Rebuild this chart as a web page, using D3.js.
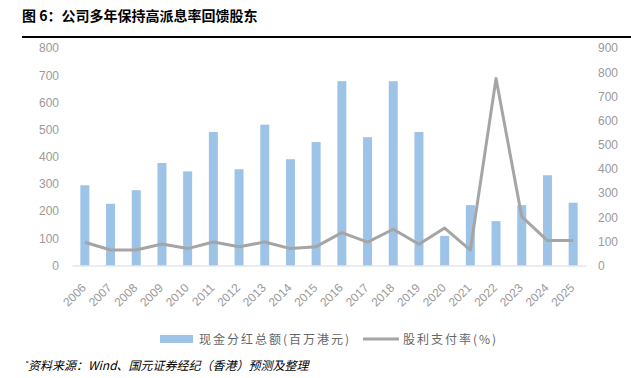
<!DOCTYPE html>
<html>
<head>
<meta charset="utf-8">
<script src="https://cdn.jsdelivr.net/npm/d3@7"></script>
<style>
  html, body { margin: 0; padding: 0; background: #fff; }
  svg { display: block; }
</style>
</head>
<body>
<div id="chart"></div>
<script>
// chart data
const years = ["2006", "2007", "2008", "2009", "2010", "2011", "2012", "2013", "2014", "2015",
    "2016", "2017", "2018", "2019", "2020", "2021", "2022", "2023", "2024", "2025"];
const dividendTotal = [295, 227, 277, 377, 346, 491, 354, 518, 391, 454,
    678, 472, 678, 491, 109, 222, 163, 222, 332, 231];
const payoutRatio = [96, 64, 64, 89, 70, 97, 78, 97, 70, 78,
    136, 97, 150, 88, 155, 64, 774, 202, 103, 103];
const leftTicks = [0, 100, 200, 300, 400, 500, 600, 700, 800];
const rightTicks = [0, 100, 200, 300, 400, 500, 600, 700, 800, 900];
const barLabel = "现金分红总额(百万港元)";
const lineLabel = "股利支付率(%)";

const W = 631, H = 378;
const plot = { left: 72, right: 586, top: 48, bottom: 265.5 };
const tickColor = "#9a9a9a";

const svg = d3.select("#chart")
    .append("svg")
    .attr("width", W)
    .attr("height", H);

// title + rule
svg.append("text")
    .attr("x", 22)
    .attr("y", 21)
    .style("font-family", "'Noto Sans CJK SC', sans-serif")
    .style("font-weight", "bold")
    .style("font-size", "14px")
    .style("fill", "#000")
    .text("图 6：公司多年保持高派息率回馈股东");

svg.append("line")
    .attr("x1", 22).attr("x2", W)
    .attr("y1", 37).attr("y2", 37)
    .attr("stroke", "#000")
    .attr("stroke-width", 2);

const x = d3.scaleBand()
    .domain(years)
    .range([plot.left, plot.right])
    .padding(0);

const yLeft = d3.scaleLinear()
    .domain([0, 800])
    .range([plot.bottom, plot.top]);

const yRight = d3.scaleLinear()
    .domain([0, 900])
    .range([plot.bottom, plot.top]);

const cx = d => x(d) + x.bandwidth() / 2;
const barW = 9;

// bars
svg.selectAll(".bar")
    .data(dividendTotal)
    .enter().append("rect")
    .attr("class", "bar")
    .attr("x", (d, i) => cx(years[i]) - barW / 2)
    .attr("y", d => yLeft(d))
    .attr("width", barW)
    .attr("height", d => yLeft(0) - yLeft(d))
    .attr("fill", "#9dc3e6");

// bottom axis
const xAxis = svg.append("g")
    .attr("transform", `translate(0,${plot.bottom})`)
    .call(d3.axisBottom(x).tickSize(0).tickSizeOuter(0));
xAxis.select(".domain").attr("stroke", "#d9d9d9").attr("stroke-width", 1);
xAxis.selectAll("text")
    .attr("transform", "translate(-1,20) rotate(-45)")
    .attr("y", 0)
    .attr("dy", "0.35em")
    .attr("text-anchor", "end")
    .style("font-family", "'Liberation Sans', Arial, sans-serif")
    .style("font-size", "12px")
    .style("fill", tickColor);

// left axis
const leftAxis = svg.append("g")
    .attr("transform", `translate(${plot.left},0)`)
    .call(d3.axisLeft(yLeft).tickValues(leftTicks).tickSize(0).tickPadding(13));
leftAxis.select(".domain").remove();
leftAxis.selectAll("text")
    .style("font-family", "'Liberation Sans', Arial, sans-serif")
    .style("font-size", "12px")
    .style("fill", tickColor);

// right axis
const rightAxis = svg.append("g")
    .attr("transform", `translate(${plot.right},0)`)
    .call(d3.axisRight(yRight).tickValues(rightTicks).tickSize(0).tickPadding(12));
rightAxis.select(".domain").remove();
rightAxis.selectAll("text")
    .style("font-family", "'Liberation Sans', Arial, sans-serif")
    .style("font-size", "12px")
    .style("fill", tickColor);

// payout ratio line
const line = d3.line()
    .x((d, i) => cx(years[i]))
    .y(d => yRight(d));

svg.append("path")
    .datum(payoutRatio)
    .attr("d", line)
    .attr("fill", "none")
    .attr("stroke", "#a5a5a5")
    .attr("stroke-width", 3)
    .attr("stroke-linejoin", "round");

// legend
const legend = svg.append("g").attr("transform", "translate(160,339)");
legend.append("rect")
    .attr("x", 0).attr("y", -4)
    .attr("width", 33).attr("height", 8)
    .attr("fill", "#9dc3e6");
legend.append("text")
    .attr("x", 39).attr("y", 4.5)
    .style("font-family", "'Noto Sans CJK SC', sans-serif")
    .style("font-size", "12px")
    .style("letter-spacing", "2px")
    .style("fill", "#666")
    .text(barLabel);
legend.append("line")
    .attr("x1", 203).attr("x2", 239)
    .attr("y1", 0).attr("y2", 0)
    .attr("stroke", "#a5a5a5")
    .attr("stroke-width", 3);
legend.append("text")
    .attr("x", 243).attr("y", 4.5)
    .style("font-family", "'Noto Sans CJK SC', sans-serif")
    .style("font-size", "12px")
    .style("letter-spacing", "2px")
    .style("fill", "#666")
    .text(lineLabel);

// source note
svg.append("line")
    .attr("x1", 26).attr("x2", 28.5)
    .attr("y1", 362).attr("y2", 362)
    .attr("stroke", "#000")
    .attr("stroke-width", 1);
svg.append("text")
    .attr("x", 28)
    .attr("y", 370)
    .style("font-family", "'Noto Sans CJK SC', sans-serif")
    .style("font-style", "italic")
    .style("font-size", "12px")
    .style("fill", "#000")
    .text("资料来源：Wind、国元证券经纪（香港）预测及整理");
</script>
</body>
</html>
